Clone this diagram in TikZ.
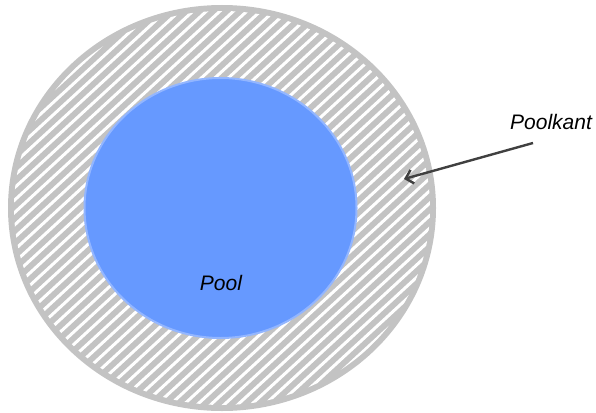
\documentclass[tikz,border=0pt]{standalone}
\usepackage{fontspec}
\setmainfont{Liberation Sans}
\usetikzlibrary{arrows.meta}
\definecolor{ringgray}{HTML}{C3C3C3}
\definecolor{poolblue}{HTML}{6699FF}
\definecolor{poolrim}{HTML}{93B6FF}
\definecolor{arrowgray}{HTML}{404040}
\tikzset{
  lbl/.style={font=\fontsize{21}{25}\selectfont\itshape, text=black, inner sep=0pt},
  pointer/.style={draw=arrowgray, line width=2.4pt, -{Straight Barb[length=7pt,width=14pt,line width=2.4pt]}},
}
\begin{document}
\begin{tikzpicture}[x=1pt,y=-1pt]
\useasboundingbox (0,0) rectangle (596,412);
% outer ring
\fill[ringgray] (222,208) ellipse [x radius=214, y radius=203];
\begin{scope}
  \clip (222,208) ellipse [x radius=208, y radius=197];
  \foreach \i in {-60,...,60} {
    \draw[white, line width=3pt] ({222+13.5*\i-300},{208+300*0.92}) -- ({222+13.5*\i+300},{208-300*0.92});
  }
\end{scope}
% pool
\fill[poolblue, draw=poolrim, line width=2pt] (220.5,208) ellipse [x radius=136, y radius=130];
\node[lbl] (pool) at (221,283) {Pool};
\node[lbl] (kant) at (551,122) {Poolkant};
\coordinate (tail) at (533,143);
\coordinate (tip) at (404,179);
\draw[pointer] (tail) -- (tip);
\end{tikzpicture}
\end{document}
